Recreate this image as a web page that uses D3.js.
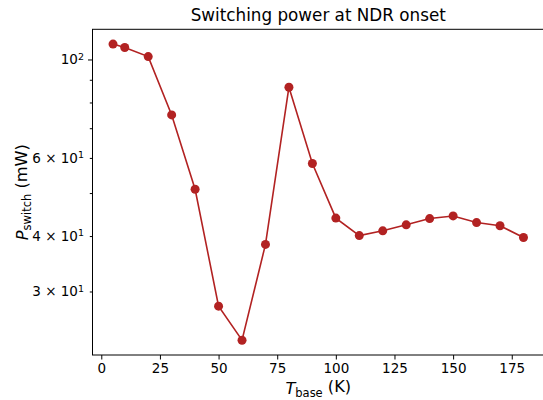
<!DOCTYPE html>
<html>
<head>
<meta charset="utf-8">
<script src="https://cdn.jsdelivr.net/npm/d3@7"></script>
<style>
  body { margin: 0; background: #fff; }
  text { font-family: "DejaVu Sans", sans-serif; fill: #000; }
</style>
</head>
<body>
<script>
// base temperature (K) and switching power (mW)
var temps = [5, 10, 20, 30, 40, 50, 60, 70, 80, 90, 100, 110, 120, 130, 140, 150, 160, 170, 180];
var power = [108.3, 106.4, 101.5, 75.0, 51.0, 27.8, 23.3, 38.3, 86.6, 58.3, 43.9, 40.1, 41.1, 42.4, 43.8, 44.4, 42.9, 42.2, 39.7];

var xTicks = [0, 25, 50, 75, 100, 125, 150, 175];
var yMajor = [100];
var yMinor = [30, 40, 50, 60, 70, 80, 90];
var yMinorLabels = {30: "3", 40: "4", 60: "6"};

var width = 543, height = 400;
var margin = {top: 29.3, right: -1, bottom: 45, left: 92.5};
var w = width - margin.left - margin.right,
    h = height - margin.top - margin.bottom;

var svg = d3.select("body").append("svg")
    .attr("width", width)
    .attr("height", height);

var g = svg.append("g")
    .attr("transform", "translate(" + margin.left + "," + margin.top + ")");

// matplotlib style 5% margins
var xPad = (d3.max(temps) - d3.min(temps)) * 0.05;
var x = d3.scaleLinear()
    .domain([d3.min(temps) - xPad, d3.max(temps) + xPad])
    .range([0, w]);

var lmin = Math.log10(d3.min(power)), lmax = Math.log10(d3.max(power));
var lPad = (lmax - lmin) * 0.05;
var y = d3.scaleLog()
    .domain([Math.pow(10, lmin - lPad), Math.pow(10, lmax + lPad)])
    .range([h, 0]);

var color = "#b22222";

var line = d3.line()
    .x(function(d, i) { return x(temps[i]); })
    .y(function(d) { return y(d); });

g.append("path")
    .datum(power)
    .attr("fill", "none")
    .attr("stroke", color)
    .attr("stroke-width", 1.6)
    .attr("d", line);

g.selectAll(".dot")
    .data(power)
  .enter().append("circle")
    .attr("class", "dot")
    .attr("cx", function(d, i) { return x(temps[i]); })
    .attr("cy", function(d) { return y(d); })
    .attr("r", 4.5)
    .attr("fill", color);

// x axis
var xAxis = g.append("g")
    .attr("transform", "translate(0," + h + ")")
    .call(d3.axisBottom(x).tickValues(xTicks).tickSize(4.5).tickPadding(4));
xAxis.select(".domain").remove();
xAxis.selectAll("text").style("font-size", "13.5px").attr("font-family", null);
xAxis.selectAll("line").attr("stroke", "#000").attr("stroke-width", 1);

// y axis (major + minor)
var yAxisMajor = g.append("g")
    .call(d3.axisLeft(y).tickValues(yMajor).tickSize(4.5).tickPadding(4).tickFormat(""));
yAxisMajor.select(".domain").remove();

var yAxisMinor = g.append("g")
    .call(d3.axisLeft(y).tickValues(yMinor).tickSize(2.7).tickFormat(""));
yAxisMinor.select(".domain").remove();

// log labels with superscripts
var labels = g.append("g").attr("font-size", "13.5px").attr("text-anchor", "end");
yMajor.forEach(function(v) {
  var t = labels.append("text").attr("x", -8.5).attr("y", y(v)).attr("dy", "0.35em");
  t.append("tspan").text("10");
  t.append("tspan").attr("dy", "-0.45em").attr("font-size", "9.5px").text(Math.round(Math.log10(v)));
});
yMinor.forEach(function(v) {
  if (!yMinorLabels[v]) return;
  var t = labels.append("text").attr("x", -8.5).attr("y", y(v)).attr("dy", "0.35em");
  t.append("tspan").text(yMinorLabels[v] + " \u00d7 10");
  t.append("tspan").attr("dy", "-0.45em").attr("font-size", "9.5px").text("1");
});

// frame
g.append("rect")
    .attr("width", w)
    .attr("height", h)
    .attr("fill", "none")
    .attr("stroke", "#000")
    .attr("stroke-width", 1);

// title
svg.append("text")
    .attr("x", margin.left + w / 2)
    .attr("y", 20.5)
    .attr("text-anchor", "middle")
    .style("font-size", "16.8px")
    .text("Switching power at NDR onset");

// x label
var xl = svg.append("text")
    .attr("x", margin.left + w / 2)
    .attr("y", 393.5)
    .attr("text-anchor", "middle")
    .style("font-size", "16.2px");
xl.append("tspan").attr("font-style", "italic").text("T");
xl.append("tspan").attr("dy", "0.3em").attr("font-size", "11.5px").text("base");
xl.append("tspan").attr("dy", "-0.3em").text(" (K)");

// y label
var yl = svg.append("text")
    .attr("transform", "translate(28," + (margin.top + h / 2) + ") rotate(-90)")
    .attr("text-anchor", "middle")
    .style("font-size", "16.2px");
yl.append("tspan").attr("font-style", "italic").text("P");
yl.append("tspan").attr("dy", "0.3em").attr("font-size", "11.5px").text("switch");
yl.append("tspan").attr("dy", "-0.3em").text(" (mW)");
</script>
</body>
</html>
